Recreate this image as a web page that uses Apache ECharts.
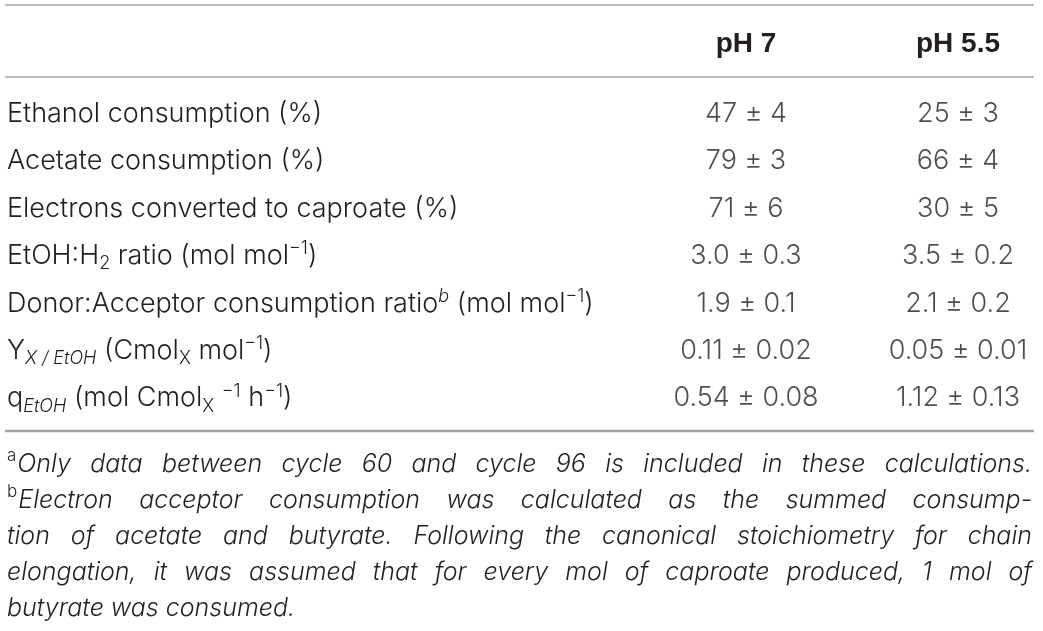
<!DOCTYPE html>
<html>
<head>
<meta charset="utf-8">
<script src="https://cdn.jsdelivr.net/npm/echarts@6/dist/echarts.min.js"></script>
<style>
  html, body { margin: 0; background: #fff; }
  #chart { width: 1043px; height: 631px; }
</style>
</head>
<body>
<div id="chart"></div>
<script>
// table content
const columns = ['pH 7', 'pH 5.5'];
const rowLabels = [
  'Ethanol consumption (%)',
  'Acetate consumption (%)',
  'Electrons converted to caproate (%)',
  'EtOH:H{sub|2} ratio (mol mol{sup|−1})',
  'Donor:Acceptor consumption ratio{supi|b} (mol mol{sup|−1})',
  'Y{subi|X / EtOH} (Cmol{sub|X} mol{sup|−1})',
  'q{subi|EtOH} (mol Cmol{sub|X} {sup|−1} h{sup|−1})'
];
const ph7Mean = [47, 79, 71, 3.0, 1.9, 0.11, 0.54];
const ph7Sd = [4, 3, 6, 0.3, 0.1, 0.02, 0.08];
const ph55Mean = [25, 66, 30, 3.5, 2.1, 0.05, 1.12];
const ph55Sd = [3, 4, 5, 0.2, 0.2, 0.01, 0.13];
const decimals = [0, 0, 0, 1, 1, 2, 2];

const noteMarks = ['a', 'b', '', '', ''];
const noteLines = [
  'Only data between cycle 60 and cycle 96 is included in these calculations.',
  'Electron acceptor consumption was calculated as the summed consump-',
  'tion of acetate and butyrate. Following the canonical stoichiometry for chain',
  'elongation, it was assumed that for every mol of caproate produced, 1 mol of',
  'butyrate was consumed.'
];

const FONT = 'Inter';
const INK = '#231f20';
const RULE = '#a3a3a3';

const chart = echarts.init(document.getElementById('chart'));

const fmt = (m, s, d) => m.toFixed(d) + ' ± ' + s.toFixed(d);
const cells = [];
rowLabels.forEach((_, i) => {
  cells.push({ value: [0, i], cell: fmt(ph7Mean[i], ph7Sd[i], decimals[i]) });
  cells.push({ value: [1, i], cell: fmt(ph55Mean[i], ph55Sd[i], decimals[i]) });
});

const small = { fontFamily: FONT, fontWeight: 300, fontSize: 18, color: INK };
const rich = {
  sub: Object.assign({}, small, { padding: [16, 0, 0, 0] }),
  subi: Object.assign({}, small, { fontStyle: 'italic', padding: [16, 0, 0, 0] }),
  sup: Object.assign({}, small, { padding: [0, 0, 14, 0] }),
  supi: Object.assign({}, small, { fontStyle: 'italic', padding: [0, 0, 14, 0] })
};

// footnotes, justified like the printed table
const ctx = document.createElement('canvas').getContext('2d');
const textW = (t, f) => { ctx.font = f; return ctx.measureText(t).width; };
const noteFont = `italic 300 25px ${FONT}`;
const markFont = `300 17px ${FONT}`;
const noteLeft = 7, noteRight = 1032;
const notes = [];
noteLines.forEach((line, k) => {
  const y = 464 + k * 36;
  let x = noteLeft;
  if (noteMarks[k]) {
    notes.push({ type: 'text', x: x, y: y - 8, style: { text: noteMarks[k], font: markFont, fill: INK, verticalAlign: 'middle' } });
    x += textW(noteMarks[k], markFont) + 1;
  }
  const words = line.split(' ');
  const total = words.reduce((s, wd) => s + textW(wd, noteFont), 0);
  const gap = k < noteLines.length - 1
    ? (noteRight - x - total) / (words.length - 1)
    : textW(' ', noteFont);
  words.forEach(wd => {
    notes.push({ type: 'text', x: x, y: y, style: { text: wd, font: noteFont, fill: INK, verticalAlign: 'middle' } });
    x += textW(wd, noteFont) + gap;
  });
});

const rule = (y, w) => ({
  type: 'line', shape: { x1: 5, y1: y, x2: 1034, y2: y },
  style: { stroke: RULE, lineWidth: w }
});

chart.setOption({
  animation: false,
  grid: { left: 746, right: 85, top: 90, height: 332, containLabel: false, outerBoundsMode: 'none' },
  xAxis: {
    type: 'category',
    data: columns,
    position: 'top',
    boundaryGap: false,
    axisLine: { show: false },
    axisTick: { show: false },
    splitLine: { show: false },
    axisLabel: {
      interval: 0, margin: 46, verticalAlign: 'middle',
      fontFamily: 'Liberation Sans', fontWeight: 'bold', fontSize: 28, color: INK
    }
  },
  yAxis: {
    type: 'category',
    inverse: true,
    data: rowLabels,
    axisLine: { show: false },
    axisTick: { show: false },
    splitLine: { show: false },
    axisLabel: {
      interval: 0, margin: 739, align: 'left', verticalAlign: 'middle',
      fontFamily: FONT, fontWeight: 300, fontSize: 27, color: INK,
      rich: rich
    }
  },
  series: [{
    type: 'scatter',
    data: cells,
    symbolSize: 1,
    clip: false,
    itemStyle: { color: 'rgba(0,0,0,0)' },
    label: {
      show: true,
      position: 'inside',
      formatter: p => p.data.cell,
      fontFamily: FONT, fontWeight: 300, fontSize: 27, color: INK
    }
  }],
  graphic: [rule(5, 1.5), rule(77, 1.5), rule(431, 2.5)].concat(notes)
});
</script>
</body>
</html>
